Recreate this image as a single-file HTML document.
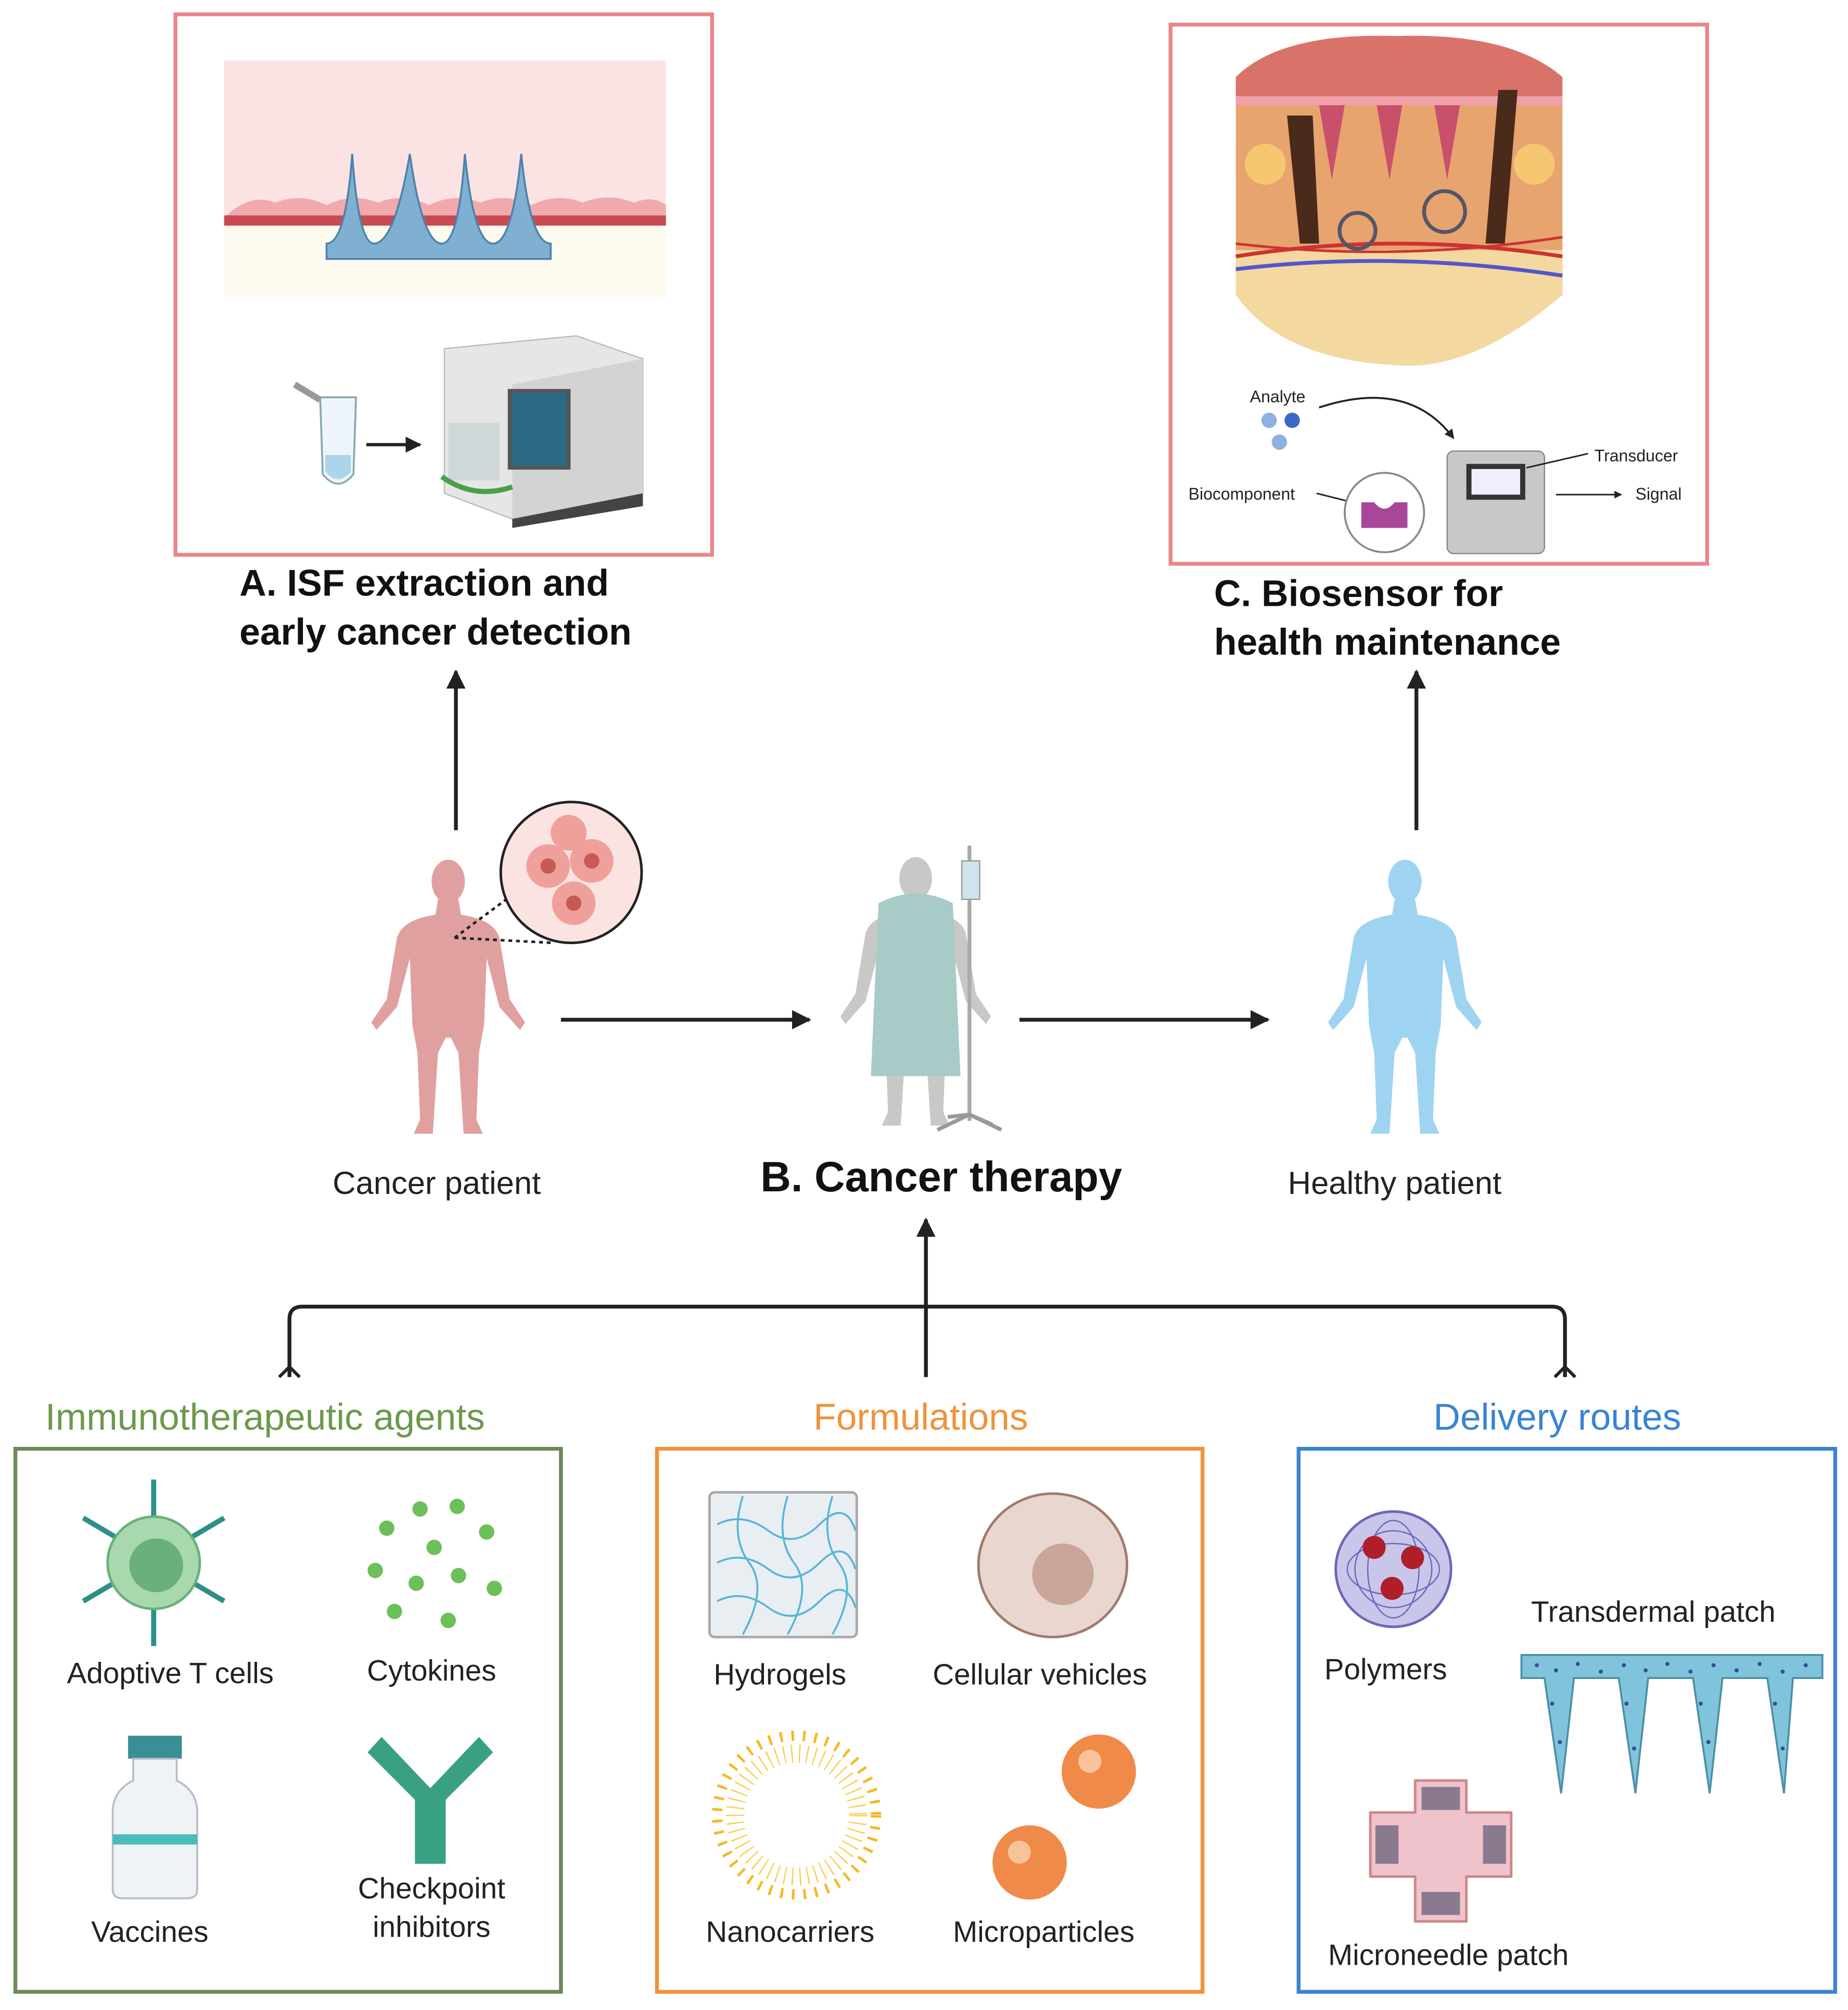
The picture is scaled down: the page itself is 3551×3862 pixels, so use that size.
<!DOCTYPE html>
<html><head><meta charset="utf-8">
<style>
html,body{margin:0;padding:0;background:#fff;}
svg{display:block;}
text{font-family:"Liberation Sans","DejaVu Sans",sans-serif;}
</style></head>
<body>
<svg width="3551" height="3862" viewBox="0 0 1443 1569" xmlns="http://www.w3.org/2000/svg">
<defs>
<marker id="ah" viewBox="0 0 10 10" refX="9" refY="5" markerWidth="5" markerHeight="5" orient="auto">
<path d="M0,0 L10,5 L0,10 Z" fill="#222"/></marker>
<g id="human">
<ellipse cx="0" cy="18" rx="13" ry="17"/>
<path d="M-8 32 L8 32 L10 44 Q36 48 40 62 L48 110 L60 128 L56 134 L40 116 L30 78 L28 130 L24 152 L22 204 L27 215 L12 215 L8 152 L2 140 L-2 140 L-8 152 L-12 215 L-27 215 L-22 204 L-24 152 L-28 130 L-30 78 L-40 116 L-56 134 L-60 128 L-48 110 L-40 62 Q-36 48 -10 44 Z"/>
</g>
</defs>

<!-- Box A -->
<rect x="137" y="11" width="419" height="422" fill="none" stroke="#e8868a" stroke-width="3"/>
<rect x="175" y="47" width="345" height="125" fill="#fbe3e4"/>
<rect x="175" y="172" width="345" height="60" fill="#fdfaf0"/>
<path d="M175 170 Q195 150 215 158 Q235 150 255 160 Q275 150 295 158 Q315 150 335 160 Q355 150 375 158 Q395 150 415 160 Q435 150 455 158 Q475 150 495 158 Q510 152 520 160 L520 170 Z" fill="#f2a9ae"/>
<rect x="175" y="168" width="345" height="8" fill="#c94a52"/>
<path d="M255 202 L255 190 Q270 190 275 120 Q280 190 292 190 Q308 190 320 120 Q330 190 345 190 Q358 190 363 120 Q370 190 385 190 Q400 190 407 120 Q414 190 430 190 L430 202 Z" fill="#7fb0d2" stroke="#4d82ad" stroke-width="1.5"/>
<!-- tube & machine -->
<path d="M250 310 L278 310 L276 370 Q264 385 252 370 Z" fill="#eef5fa" stroke="#8aa" stroke-width="1.5"/>
<path d="M254 355 L274 355 L274 368 Q264 380 254 368 Z" fill="#a9d6ea"/>
<path d="M230 300 L250 312" stroke="#999" stroke-width="5"/>
<line x1="286" y1="347" x2="328" y2="347" stroke="#222" stroke-width="2.5" marker-end="url(#ah)"/>
<path d="M347 272 L450 262 L502 280 L502 385 L400 405 L347 385 Z" fill="#e6e6e6" stroke="#bbb"/>
<path d="M400 300 L502 280 L502 385 L400 405 Z" fill="#d3d3d3"/>
<rect x="398" y="305" width="46" height="60" fill="#2a6a85" stroke="#555" stroke-width="3"/>
<rect x="350" y="330" width="40" height="45" fill="#cfd8d8"/>
<path d="M345 372 Q370 390 400 380" stroke="#4aa04a" stroke-width="4" fill="none"/>
<path d="M400 405 L502 385 L502 395 L400 412 Z" fill="#444"/>
<text x="187" y="465" font-size="29" font-weight="bold" fill="#111">A. ISF extraction and</text>
<text x="187" y="503" font-size="29" font-weight="bold" fill="#111">early cancer detection</text>

<!-- Box C -->
<rect x="914" y="19" width="419" height="421" fill="none" stroke="#e8868a" stroke-width="3"/>
<path d="M965 60 Q1000 25 1090 28 Q1180 25 1220 60 L1220 230 Q1150 290 1090 285 Q1000 280 965 230 Z" fill="#e7a46e"/>
<path d="M965 60 Q1000 25 1090 28 Q1180 25 1220 60 L1220 75 L965 75 Z" fill="#d9736a"/>
<path d="M965 75 L1220 75 L1220 82 L965 82 Z" fill="#f0a0a8"/>
<path d="M965 195 L1220 195 L1220 230 Q1150 290 1090 285 Q1000 280 965 230 Z" fill="#f3d9a0"/>
<path d="M965 200 Q1090 180 1220 200" stroke="#c33" stroke-width="3" fill="none"/>
<path d="M965 210 Q1090 195 1220 215" stroke="#55c" stroke-width="3" fill="none"/>
<path d="M965 190 Q1090 205 1220 185" stroke="#c33" stroke-width="2" fill="none"/>
<path d="M1030 82 L1040 140 L1050 82 M1075 82 L1085 140 L1095 82 M1120 82 L1130 140 L1140 82" fill="#c8506a"/>
<path d="M1005 90 L1015 190 L1030 190 L1025 90 Z" fill="#4a2a1a"/>
<path d="M1170 70 L1160 190 L1175 190 L1185 70 Z" fill="#4a2a1a"/>
<circle cx="988" cy="128" r="16" fill="#f4c770"/>
<circle cx="1198" cy="128" r="16" fill="#f4c770"/>
<circle cx="1060" cy="180" r="14" fill="none" stroke="#556" stroke-width="3"/>
<circle cx="1128" cy="165" r="16" fill="none" stroke="#556" stroke-width="3"/>
<text x="976" y="314" font-size="13" fill="#222">Analyte</text>
<circle cx="991" cy="328" r="6" fill="#8fb0e0"/><circle cx="1009" cy="328" r="6" fill="#3a6ac8"/><circle cx="999" cy="345" r="6" fill="#8fb0e0"/>
<path d="M1030 318 Q1100 295 1135 342" stroke="#222" stroke-width="1.5" fill="none" marker-end="url(#ah)"/>
<text x="928" y="390" font-size="13" fill="#222">Biocomponent</text>
<line x1="1028" y1="385" x2="1068" y2="395" stroke="#222" stroke-width="1.2"/>
<circle cx="1081" cy="400" r="31" fill="#fff" stroke="#888" stroke-width="1.5"/>
<path d="M1063 392 L1073 392 Q1081 402 1089 392 L1099 392 L1099 412 L1063 412 Z" fill="#a8479a"/>
<rect x="1130" y="352" width="76" height="80" rx="5" fill="#c8c8c8" stroke="#888"/>
<rect x="1145" y="362" width="46" height="28" fill="#333"/><rect x="1149" y="366" width="38" height="20" fill="#eef"/>
<line x1="1192" y1="365" x2="1240" y2="354" stroke="#222" stroke-width="1.2"/>
<text x="1245" y="360" font-size="13" fill="#222">Transducer</text>
<line x1="1215" y1="386" x2="1266" y2="386" stroke="#222" stroke-width="1.2" marker-end="url(#ah)"/>
<text x="1277" y="390" font-size="13" fill="#222">Signal</text>
<text x="948" y="473" font-size="29" font-weight="bold" fill="#111">C. Biosensor for</text>
<text x="948" y="511" font-size="29" font-weight="bold" fill="#111">health maintenance</text>

<!-- arrows -->
<line x1="356" y1="648" x2="356" y2="524" stroke="#222" stroke-width="3" marker-end="url(#ah)"/>
<line x1="1106" y1="648" x2="1106" y2="524" stroke="#222" stroke-width="3" marker-end="url(#ah)"/>
<line x1="438" y1="796" x2="632" y2="796" stroke="#222" stroke-width="3" marker-end="url(#ah)"/>
<line x1="796" y1="796" x2="990" y2="796" stroke="#222" stroke-width="3" marker-end="url(#ah)"/>
<line x1="723" y1="1075" x2="723" y2="952" stroke="#222" stroke-width="3" marker-end="url(#ah)"/>

<!-- patients -->
<g fill="#e1a0a0" transform="translate(350,670)"><use href="#human"/></g>
<line x1="355" y1="732" x2="398" y2="700" stroke="#222" stroke-width="2" stroke-dasharray="3,3"/>
<line x1="355" y1="732" x2="432" y2="736" stroke="#222" stroke-width="2" stroke-dasharray="3,3"/>
<circle cx="446" cy="681" r="55" fill="#fbe3e2" stroke="#222" stroke-width="2"/>
<circle cx="428" cy="676" r="17" fill="#f0a09a"/><circle cx="462" cy="672" r="17" fill="#f0a09a"/><circle cx="448" cy="705" r="17" fill="#f0a09a"/><circle cx="444" cy="650" r="14" fill="#f0a09a"/>
<circle cx="428" cy="676" r="6" fill="#c85a55"/><circle cx="462" cy="672" r="6" fill="#c85a55"/><circle cx="448" cy="705" r="6" fill="#c85a55"/>
<text x="341" y="932" font-size="25" fill="#222" text-anchor="middle">Cancer patient</text>

<g fill="#c8c8c8" transform="translate(715,668) scale(0.98)"><use href="#human"/></g>
<path d="M686 705 Q715 690 744 705 L750 840 L680 840 Z" fill="#a9cbc8"/>
<line x1="757" y1="660" x2="757" y2="875" stroke="#aaa" stroke-width="3"/>
<rect x="751" y="672" width="14" height="30" fill="#cfe3ea" stroke="#999"/>
<path d="M732 882 L757 870 L782 882 M740 872 L757 870 L775 878" stroke="#999" stroke-width="3" fill="none"/>
<text x="735" y="930" font-size="33" font-weight="bold" fill="#111" text-anchor="middle">B. Cancer therapy</text>

<g fill="#9fd3f2" transform="translate(1097,670)"><use href="#human"/></g>
<text x="1089" y="932" font-size="25" fill="#222" text-anchor="middle">Healthy patient</text>

<!-- bracket -->
<path d="M226 1075 L226 1030 Q226 1020 236 1020 L1212 1020 Q1222 1020 1222 1030 L1222 1075" fill="none" stroke="#222" stroke-width="3"/>
<path d="M218 1075 L226 1067 L234 1075 M1214 1075 L1222 1067 L1230 1075" fill="none" stroke="#222" stroke-width="2.5"/>

<text x="207" y="1116" font-size="29" fill="#6a9a4a" text-anchor="middle">Immunotherapeutic agents</text>
<text x="719" y="1116" font-size="29" fill="#f0923a" text-anchor="middle">Formulations</text>
<text x="1216" y="1116" font-size="29" fill="#3a84d0" text-anchor="middle">Delivery routes</text>

<rect x="12" y="1131" width="426" height="424" fill="none" stroke="#6a8a5a" stroke-width="3"/>
<rect x="513" y="1131" width="426" height="424" fill="none" stroke="#f0923a" stroke-width="3"/>
<rect x="1014" y="1131" width="419" height="424" fill="none" stroke="#3a84d0" stroke-width="3"/>

<!-- immuno -->
<g stroke="#2e8f88" stroke-width="4">
<line x1="120" y1="1155" x2="120" y2="1285"/><line x1="65" y1="1185" x2="175" y2="1250"/><line x1="175" y1="1185" x2="65" y2="1250"/></g>
<circle cx="120" cy="1220" r="36" fill="#a8d9ae" stroke="#6ab07a" stroke-width="2"/>
<circle cx="122" cy="1222" r="21" fill="#6ab07a"/>
<text x="133" y="1314" font-size="23" fill="#222" text-anchor="middle">Adoptive T cells</text>
<g fill="#6cc05a"><circle cx="302" cy="1193" r="6"/><circle cx="328" cy="1178" r="6"/><circle cx="357" cy="1176" r="6"/><circle cx="380" cy="1196" r="6"/><circle cx="339" cy="1208" r="6"/><circle cx="293" cy="1226" r="6"/><circle cx="325" cy="1236" r="6"/><circle cx="358" cy="1230" r="6"/><circle cx="386" cy="1240" r="6"/><circle cx="308" cy="1258" r="6"/><circle cx="350" cy="1265" r="6"/></g>
<text x="337" y="1312" font-size="23" fill="#222" text-anchor="middle">Cytokines</text>
<rect x="100" y="1355" width="42" height="18" fill="#3a8f95"/>
<path d="M104 1373 L138 1373 L138 1390 Q154 1398 154 1415 L154 1475 Q154 1482 146 1482 L96 1482 Q88 1482 88 1475 L88 1415 Q88 1398 104 1390 Z" fill="#eef3f6" stroke="#bbc" stroke-width="1.5"/>
<rect x="88" y="1432" width="66" height="8" fill="#4abcbc"/>
<text x="117" y="1516" font-size="23" fill="#222" text-anchor="middle">Vaccines</text>
<g fill="#3aa084"><path d="M324 1455 L324 1405 L287 1368 L298 1356 L336 1396 L374 1356 L385 1368 L348 1405 L348 1455 Z"/></g>
<text x="337" y="1482" font-size="23" fill="#222" text-anchor="middle">Checkpoint</text>
<text x="337" y="1512" font-size="23" fill="#222" text-anchor="middle">inhibitors</text>

<!-- formulations -->
<rect x="554" y="1165" width="115" height="113" rx="4" fill="#e9eef2" stroke="#aaa" stroke-width="2"/>
<g stroke="#58b4d8" stroke-width="1.5" fill="none">
<path d="M560 1190 Q580 1180 600 1195 T640 1190 T668 1195"/><path d="M560 1220 Q580 1210 600 1225 T640 1220 T668 1225"/><path d="M560 1250 Q580 1240 600 1255 T640 1250 T668 1255"/>
<path d="M580 1168 Q570 1200 585 1220 T580 1276"/><path d="M615 1168 Q605 1200 620 1220 T615 1276"/><path d="M650 1168 Q640 1200 655 1220 T650 1276"/></g>
<text x="609" y="1315" font-size="23" fill="#222" text-anchor="middle">Hydrogels</text>
<ellipse cx="822" cy="1222" rx="58" ry="56" fill="#e9d6cf" stroke="#a07a6e" stroke-width="2"/>
<circle cx="830" cy="1229" r="24" fill="#c9a59a"/>
<text x="812" y="1315" font-size="23" fill="#222" text-anchor="middle">Cellular vehicles</text>
<circle cx="622" cy="1417" r="62" fill="none" stroke="#f5b820" stroke-width="8" stroke-dasharray="2,7"/>
<circle cx="622" cy="1417" r="48" fill="none" stroke="#f5cf50" stroke-width="14" stroke-dasharray="1,5"/>
<text x="617" y="1516" font-size="23" fill="#222" text-anchor="middle">Nanocarriers</text>
<circle cx="858" cy="1383" r="29" fill="#f08a48"/><circle cx="851" cy="1375" r="9" fill="#f9c39a"/>
<circle cx="804" cy="1454" r="29" fill="#f08a48"/><circle cx="796" cy="1446" r="9" fill="#f9c39a"/>
<text x="815" y="1516" font-size="23" fill="#222" text-anchor="middle">Microparticles</text>

<!-- delivery -->
<circle cx="1088" cy="1225" r="45" fill="#c9c6ea" stroke="#6a68b8" stroke-width="2"/>
<g stroke="#6a68b8" fill="none"><ellipse cx="1088" cy="1225" rx="36" ry="20"/><ellipse cx="1088" cy="1225" rx="20" ry="38"/><ellipse cx="1088" cy="1225" rx="30" ry="30"/></g>
<circle cx="1073" cy="1208" r="9" fill="#b01e2a"/><circle cx="1103" cy="1216" r="9" fill="#b01e2a"/><circle cx="1087" cy="1240" r="9" fill="#b01e2a"/>
<text x="1082" y="1311" font-size="23" fill="#222" text-anchor="middle">Polymers</text>
<text x="1291" y="1266" font-size="23" fill="#222" text-anchor="middle">Transdermal patch</text>
<path d="M1188 1292 L1423 1292 L1423 1310 L1400 1310 L1393 1400 L1380 1310 L1345 1310 L1335 1400 L1322 1310 L1287 1310 L1277 1400 L1264 1310 L1229 1310 L1219 1400 L1206 1310 L1188 1310 Z" fill="#7fc4da" stroke="#4c8fa8" stroke-width="1.5"/>
<g fill="#3a4a9a">
<circle cx="1200" cy="1300" r="1.6"/><circle cx="1215" cy="1304" r="1.6"/><circle cx="1232" cy="1299" r="1.6"/><circle cx="1250" cy="1305" r="1.6"/><circle cx="1268" cy="1300" r="1.6"/><circle cx="1285" cy="1304" r="1.6"/><circle cx="1302" cy="1299" r="1.6"/><circle cx="1320" cy="1305" r="1.6"/><circle cx="1338" cy="1300" r="1.6"/><circle cx="1356" cy="1304" r="1.6"/><circle cx="1374" cy="1299" r="1.6"/><circle cx="1392" cy="1305" r="1.6"/><circle cx="1410" cy="1300" r="1.6"/>
<circle cx="1212" cy="1330" r="1.6"/><circle cx="1218" cy="1360" r="1.6"/><circle cx="1270" cy="1330" r="1.6"/><circle cx="1276" cy="1365" r="1.6"/><circle cx="1328" cy="1330" r="1.6"/><circle cx="1334" cy="1360" r="1.6"/><circle cx="1386" cy="1330" r="1.6"/><circle cx="1392" cy="1365" r="1.6"/></g>
<path d="M1105 1390 L1145 1390 L1145 1415 L1180 1415 L1180 1465 L1145 1465 L1145 1500 L1105 1500 L1105 1465 L1070 1465 L1070 1415 L1105 1415 Z" fill="#f0c2cc" stroke="#c88" stroke-width="2" stroke-linejoin="round"/>
<rect x="1110" y="1395" width="30" height="18" fill="#8a7a90"/><rect x="1110" y="1477" width="30" height="18" fill="#8a7a90"/>
<rect x="1074" y="1425" width="18" height="30" fill="#8a7a90"/><rect x="1158" y="1425" width="18" height="30" fill="#8a7a90"/>
<text x="1131" y="1534" font-size="23" fill="#222" text-anchor="middle">Microneedle patch</text>
</svg>
</body></html>
